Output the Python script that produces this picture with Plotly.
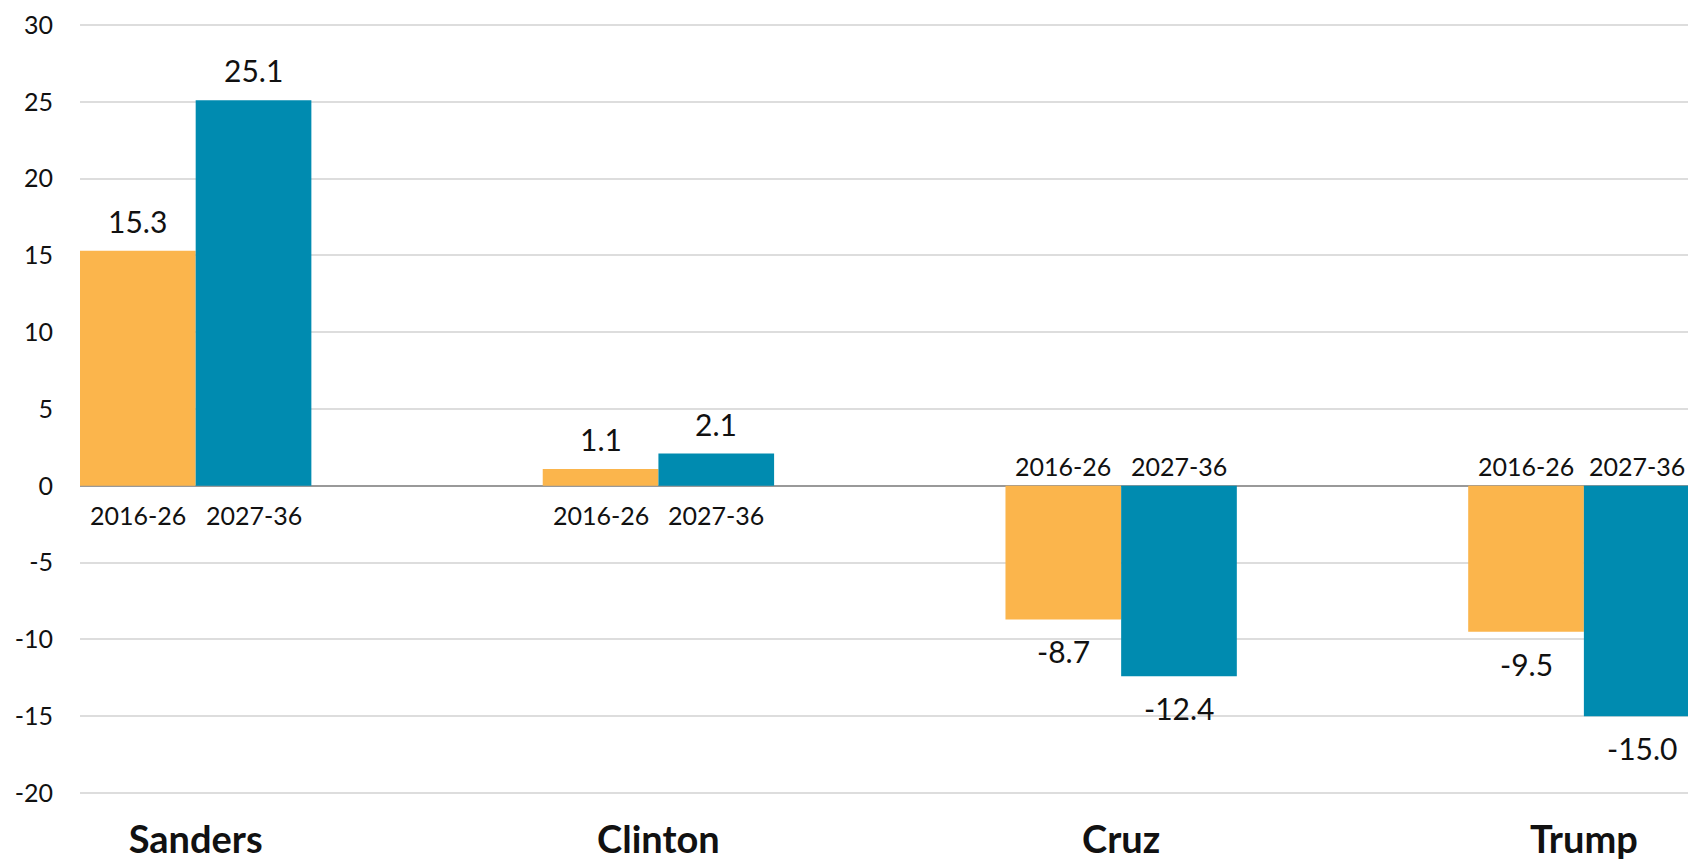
import plotly.graph_objects as go

# Data
candidates = ["Sanders", "Clinton", "Cruz", "Trump"]
periods = ["2016-26", "2027-36"]
values_2016_26 = [15.3, 1.1, -8.7, -9.5]
values_2027_36 = [25.1, 2.1, -12.4, -15.0]
y_ticks = [30, 25, 20, 15, 10, 5, 0, -5, -10, -15, -20]

orange = "#FBB54C"
blue = "#008BB0"
font_family = "Lato, 'Open Sans', sans-serif"

x_pos = list(range(len(candidates)))

fig = go.Figure()
series = [(periods[0], values_2016_26, orange, -0.125),
          (periods[1], values_2027_36, blue, 0.125)]
for name, vals, color, _ in series:
    fig.add_trace(go.Bar(
        x=x_pos, y=vals, name=name,
        marker=dict(color=color, line=dict(width=0)),
        hoverinfo="skip",
    ))

annotations = []
for name, vals, color, off in series:
    for i, v in enumerate(vals):
        # value label just beyond the bar end
        annotations.append(dict(
            x=i + off, y=v, xref="x", yref="y",
            text=f"{v:.1f}", showarrow=False,
            yshift=30 if v >= 0 else -32,
            font=dict(family=font_family, size=30, color="#111111"),
        ))
        # period label on the opposite side of the zero line
        grp_positive = values_2016_26[i] >= 0
        last = (i == len(vals) - 1 and off > 0)
        annotations.append(dict(
            x=i + off, y=0, xref="x", yref="y",
            text=name, showarrow=False,
            yshift=-29 if grp_positive else 20,
            xshift=-5 if last else 0,
            font=dict(family=font_family, size=25, color="#111111"),
        ))

fig.update_layout(
    width=1688, height=861,
    margin=dict(l=80, r=0, t=22, b=65),
    paper_bgcolor="white", plot_bgcolor="white",
    barmode="group", bargap=0.5, bargroupgap=0,
    showlegend=False,
    annotations=annotations,
    xaxis=dict(
        range=[-0.25, 3.225],
        tickvals=x_pos, ticktext=[f"<b>{c}</b>" for c in candidates],
        tickfont=dict(family=font_family, size=38, color="#111111"),
        ticks="", ticklabelstandoff=18,
        showgrid=False, zeroline=False, showline=False, fixedrange=True,
    ),
    yaxis=dict(
        range=[-20.2, 30.2], tickvals=y_ticks,
        ticktext=[str(t) for t in y_ticks],
        showgrid=True, gridcolor="#DDDDDD", gridwidth=2,
        zeroline=True, zerolinecolor="#999999", zerolinewidth=2,
        showline=False, ticks="", ticklabelstandoff=26,
        tickfont=dict(family=font_family, size=25, color="#111111"),
        fixedrange=True,
    ),
)

fig.write_html("out.html", config={"displayModeBar": False})
